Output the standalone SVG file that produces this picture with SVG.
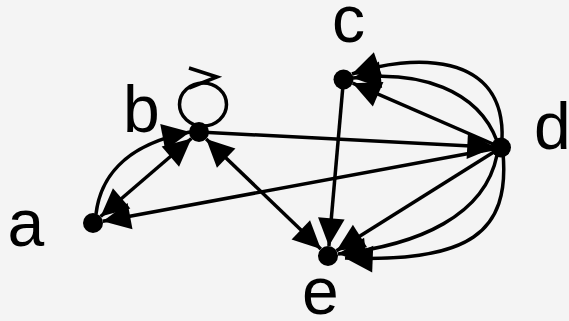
<svg xmlns="http://www.w3.org/2000/svg" width="569" height="321" viewBox="0 0 569 321">
<defs>
<style>
.lbl{font-family:"Liberation Sans",Arial,sans-serif;font-size:66px;fill:#000}
.e{fill:none;stroke:#000;stroke-width:3.5}
.n{fill:#000}
</style>
<marker id="ah" markerUnits="userSpaceOnUse" markerWidth="32" markerHeight="32" viewBox="-28 -14 30 28" refX="0" refY="0" orient="auto-start-reverse">
<path d="M0,0 L-26,-12.5 L-26,12.5 Z" fill="#000"/>
</marker>
</defs>
<rect width="569" height="321" fill="#f4f4f4"/>
<g id="edges">
<path class="e" d="M100.6,216.5 L191.4,138.5" marker-start="url(#ah)" marker-end="url(#ah)"/>
<path class="e" d="M96,214 C100,180 122,145 190,132" marker-end="url(#ah)"/>
<path class="e" d="M501,147.5 L102.8,221.2" marker-end="url(#ah)"/>
<path class="e" d="M199,132 L495,147.2" marker-end="url(#ah)"/>
<path class="e" d="M206.2,138.9 L320.8,249.1" marker-start="url(#ah)" marker-end="url(#ah)"/>
<path class="e" d="M343.5,79.5 L328.9,246" marker-end="url(#ah)"/>
<path class="e" d="M501,147.5 L352.7,83.2" marker-end="url(#ah)"/>
<path class="e" d="M502,140 C506,50 410,54 352,74" marker-end="url(#ah)"/>
<path class="e" d="M497,141 C478,90 420,70 353,78" marker-end="url(#ah)"/>
<path class="e" d="M501,147.5 L336.5,250.7" marker-end="url(#ah)"/>
<path class="e" d="M497,155 C485,215 420,245 338,254" marker-end="url(#ah)"/>
<path class="e" d="M503,153 C510,232 470,263 345,258" marker-end="url(#ah)"/>
<ellipse class="e" cx="203" cy="104.5" rx="23.5" ry="21.5"/>
<polyline class="e" points="189,68 217,77 189,88"/>
</g>
<g id="node-a"><circle class="n" cx="93" cy="223" r="10"/><text class="lbl" x="7.5" y="246">a</text></g>
<g id="node-b"><circle class="n" cx="199" cy="132" r="10"/><text class="lbl" x="123" y="132">b</text></g>
<g id="node-c"><circle class="n" cx="343.5" cy="79.5" r="10"/><text class="lbl" x="332" y="42">c</text></g>
<g id="node-d"><circle class="n" cx="501" cy="147.5" r="10"/><text class="lbl" x="534" y="149">d</text></g>
<g id="node-e"><circle class="n" cx="328" cy="256" r="10"/><text class="lbl" x="302" y="314">e</text></g>
</svg>
